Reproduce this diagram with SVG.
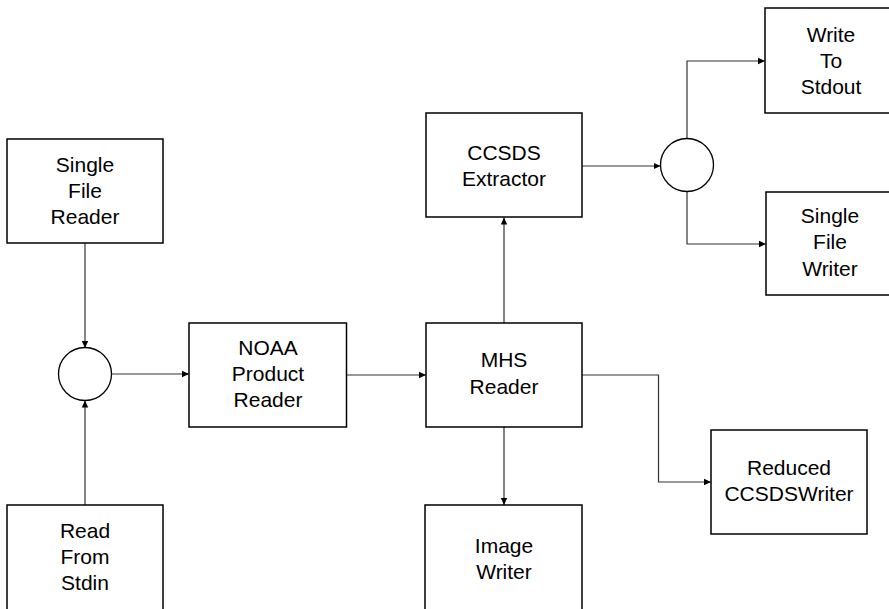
<svg xmlns="http://www.w3.org/2000/svg" width="889" height="609" viewBox="0 0 889 609">
  <style>
    .box { fill: #ffffff; stroke: #000000; stroke-width: 1.5; }
    .junction { fill: #ffffff; stroke: #000000; stroke-width: 1.3; }
    .label { font-family: "Liberation Sans", Arial, sans-serif; font-size: 21px; fill: #000000; text-anchor: middle; }
    .wire { fill: none; stroke: #333333; stroke-width: 1.2; marker-end: url(#arrow); }
  </style>
  <defs>
    <marker id="arrow" markerUnits="userSpaceOnUse" markerWidth="8" markerHeight="8" refX="7" refY="4" orient="auto">
      <path d="M0,0.8 L7,4 L0,7.2 Z" fill="#000000"/>
    </marker>
  </defs>
  <rect width="889" height="609" fill="#ffffff"/>

  <g id="connectors">
    <path class="wire" d="M85,243 L85,348"/>
    <path class="wire" d="M85,505 L85,400.5"/>
    <path class="wire" d="M111.5,374 L189,374"/>
    <path class="wire" d="M346.7,375 L426,375"/>
    <path class="wire" d="M504,323 L504,217.5"/>
    <path class="wire" d="M504,427 L504,505"/>
    <path class="wire" d="M582,375 L658.5,375 L658.5,482 L711,482"/>
    <path class="wire" d="M582,166 L660.5,166"/>
    <path class="wire" d="M687,138.5 L687,61 L765,61"/>
    <path class="wire" d="M687,191.5 L687,244 L766,244"/>
  </g>

  <g id="single-file-reader">
    <rect class="box" x="7" y="139" width="156" height="104"/>
    <text class="label" x="85" y="172">Single</text>
    <text class="label" x="85" y="198">File</text>
    <text class="label" x="85" y="224">Reader</text>
  </g>

  <g id="read-from-stdin">
    <rect class="box" x="7" y="505" width="156" height="120"/>
    <text class="label" x="85" y="538">Read</text>
    <text class="label" x="85" y="564">From</text>
    <text class="label" x="85" y="590">Stdin</text>
  </g>

  <g id="input-junction">
    <circle class="junction" cx="85" cy="374" r="26.5"/>
  </g>

  <g id="noaa-product-reader">
    <rect class="box" x="189" y="323" width="157.5" height="104"/>
    <text class="label" x="268" y="355">NOAA</text>
    <text class="label" x="268" y="381">Product</text>
    <text class="label" x="268" y="407">Reader</text>
  </g>

  <g id="mhs-reader">
    <rect class="box" x="426" y="323" width="156" height="104"/>
    <text class="label" x="504" y="367">MHS</text>
    <text class="label" x="504" y="394">Reader</text>
  </g>

  <g id="ccsds-extractor">
    <rect class="box" x="426" y="113" width="156" height="104"/>
    <text class="label" x="504" y="160">CCSDS</text>
    <text class="label" x="504" y="186">Extractor</text>
  </g>

  <g id="image-writer">
    <rect class="box" x="425" y="505" width="157" height="120"/>
    <text class="label" x="504" y="553">Image</text>
    <text class="label" x="504" y="579">Writer</text>
  </g>

  <g id="reduced-ccsds-writer">
    <rect class="box" x="711" y="430" width="156" height="104"/>
    <text class="label" x="789" y="475">Reduced</text>
    <text class="label" x="789" y="501">CCSDSWriter</text>
  </g>

  <g id="output-junction">
    <circle class="junction" cx="687" cy="165" r="26.5"/>
  </g>

  <g id="write-to-stdout">
    <rect class="box" x="765" y="8" width="160" height="105"/>
    <text class="label" x="831" y="42">Write</text>
    <text class="label" x="831" y="68">To</text>
    <text class="label" x="831" y="94">Stdout</text>
  </g>

  <g id="single-file-writer">
    <rect class="box" x="766" y="192" width="160" height="103"/>
    <text class="label" x="830" y="223">Single</text>
    <text class="label" x="830" y="249">File</text>
    <text class="label" x="830" y="276">Writer</text>
  </g>
</svg>
